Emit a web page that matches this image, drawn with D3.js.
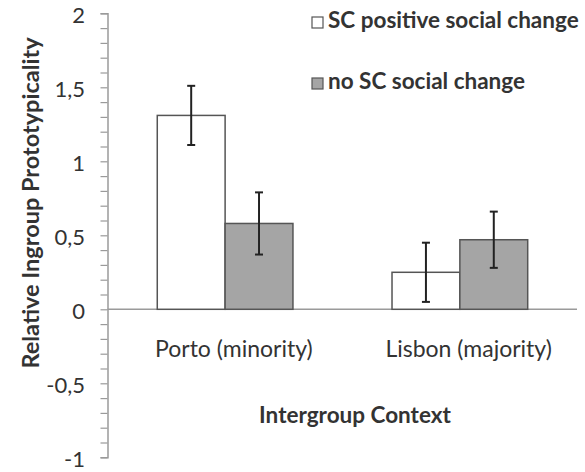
<!DOCTYPE html>
<html>
<head>
<meta charset="utf-8">
<script src="https://cdn.jsdelivr.net/npm/d3@7/dist/d3.min.js"></script>
<style>
  html, body { margin: 0; padding: 0; background: #fff; }
  svg { display: block; }
  text { font-family: Lato, "Open Sans", sans-serif; fill: #333; }
</style>
</head>
<body>
<svg id="chart" width="585" height="472"></svg>
<script>
// Intergroup contexts (x categories) and the two experimental conditions
const contexts = ["Porto (minority)", "Lisbon (majority)"];
const conditions = ["SC positive social change", "no SC social change"];

// Mean relative ingroup prototypicality per condition, one value per context
const scPositive = [1.31, 0.25];
const noSC = [0.58, 0.47];

// Error bar half-widths per condition, one per context
const scPositiveErr = [0.20, 0.20];
const noSCErr = [0.21, 0.19];

// Y axis tick labels (decimal comma)
const yTickValues = [-1, -0.5, 0, 0.5, 1, 1.5, 2];
const yTickLabels = ["-1", "-0,5", "0", "0,5", "1", "1,5", "2"];

const seriesValues = [scPositive, noSC];
const seriesErr = [scPositiveErr, noSCErr];
const fills = ["#ffffff", "#a5a5a5"];

const svg = d3.select("#chart");

const plotLeft = 107.5, plotRight = 577, plotTop = 13.3, plotBottom = 457.3;

const y = d3.scaleLinear().domain([-1, 2]).range([plotBottom, plotTop]);
const x0 = d3.scaleBand().domain(contexts).range([plotLeft, plotRight]).padding(0);
const x1 = d3.scaleBand().domain(conditions)
  .range([x0.bandwidth() * 0.212, x0.bandwidth() * 0.79]).padding(0);

// Minor ticks every 0.1 along the y axis
const minorTicks = d3.range(-10, 21).map(i => i / 10);
const yAxis = d3.axisLeft(y)
  .tickValues(minorTicks)
  .tickSize(7)
  .tickFormat("");
const gy = svg.append("g").attr("transform", `translate(${plotLeft},0)`).call(yAxis);
gy.select(".domain").attr("stroke", "#9a9a9a").attr("stroke-width", 1.5);
gy.selectAll(".tick line").attr("stroke", "#9a9a9a").attr("stroke-width", 1.2);

// Major tick labels
svg.append("g").selectAll("text")
  .data(yTickValues)
  .join("text")
  .attr("x", 85)
  .attr("y", d => y(d))
  .attr("dy", "0.42em")
  .attr("text-anchor", "end")
  .attr("font-size", 22)
  .text((d, i) => yTickLabels[i]);

// Zero baseline
svg.append("line")
  .attr("x1", plotLeft).attr("x2", plotRight)
  .attr("y1", y(0)).attr("y2", y(0))
  .attr("stroke", "#9a9a9a").attr("stroke-width", 1.5);

// Bars
const groups = svg.append("g").selectAll("g")
  .data(contexts)
  .join("g")
  .attr("transform", d => `translate(${x0(d)},0)`);

groups.selectAll("rect")
  .data((d, ci) => conditions.map((c, si) => ({ c, si, v: seriesValues[si][ci] })))
  .join("rect")
  .attr("x", d => x1(d.c))
  .attr("width", x1.bandwidth())
  .attr("y", d => y(Math.max(0, d.v)))
  .attr("height", d => Math.abs(y(d.v) - y(0)))
  .attr("fill", d => fills[d.si])
  .attr("stroke", "#555")
  .attr("stroke-width", 1.5);

// Error bars
const cap = 4;
const eb = groups.selectAll("g.err")
  .data((d, ci) => conditions.map((c, si) => ({
    c, v: seriesValues[si][ci], e: seriesErr[si][ci]
  })))
  .join("g")
  .attr("class", "err")
  .attr("stroke", "#222")
  .attr("stroke-width", 2);
eb.append("line")
  .attr("x1", d => x1(d.c) + x1.bandwidth() / 2)
  .attr("x2", d => x1(d.c) + x1.bandwidth() / 2)
  .attr("y1", d => y(d.v + d.e))
  .attr("y2", d => y(d.v - d.e));
eb.append("line")
  .attr("x1", d => x1(d.c) + x1.bandwidth() / 2 - cap)
  .attr("x2", d => x1(d.c) + x1.bandwidth() / 2 + cap)
  .attr("y1", d => y(d.v + d.e))
  .attr("y2", d => y(d.v + d.e));
eb.append("line")
  .attr("x1", d => x1(d.c) + x1.bandwidth() / 2 - cap)
  .attr("x2", d => x1(d.c) + x1.bandwidth() / 2 + cap)
  .attr("y1", d => y(d.v - d.e))
  .attr("y2", d => y(d.v - d.e));

// Category labels
svg.append("g").selectAll("text")
  .data(contexts)
  .join("text")
  .attr("x", d => x0(d) + x0.bandwidth() / 2 + 9)
  .attr("y", 357)
  .attr("text-anchor", "middle")
  .attr("font-size", 23)
  .text(d => d);

// Axis titles
svg.append("text")
  .attr("x", 355)
  .attr("y", 423)
  .attr("text-anchor", "middle")
  .attr("font-size", 22.5)
  .attr("font-weight", "bold")
  .attr("fill", "#222")
  .text("Intergroup Context");

svg.append("text")
  .attr("transform", "translate(39,203) rotate(-90)")
  .attr("text-anchor", "middle")
  .attr("font-size", 23.5)
  .attr("font-weight", "bold")
  .attr("fill", "#222")
  .text("Relative Ingroup Prototypicality");

// Legend
const legend = svg.append("g").selectAll("g")
  .data(conditions)
  .join("g")
  .attr("transform", (d, i) => `translate(312,${17 + i * 61})`);
legend.append("rect")
  .attr("width", 11).attr("height", 11)
  .attr("fill", (d, i) => fills[i])
  .attr("stroke", "#555").attr("stroke-width", 1.2);
legend.append("text")
  .attr("x", 16)
  .attr("y", 11)
  .attr("font-size", 22.5)
  .attr("font-weight", "bold")
  .attr("fill", "#222")
  .text(d => d);
</script>
</body>
</html>
